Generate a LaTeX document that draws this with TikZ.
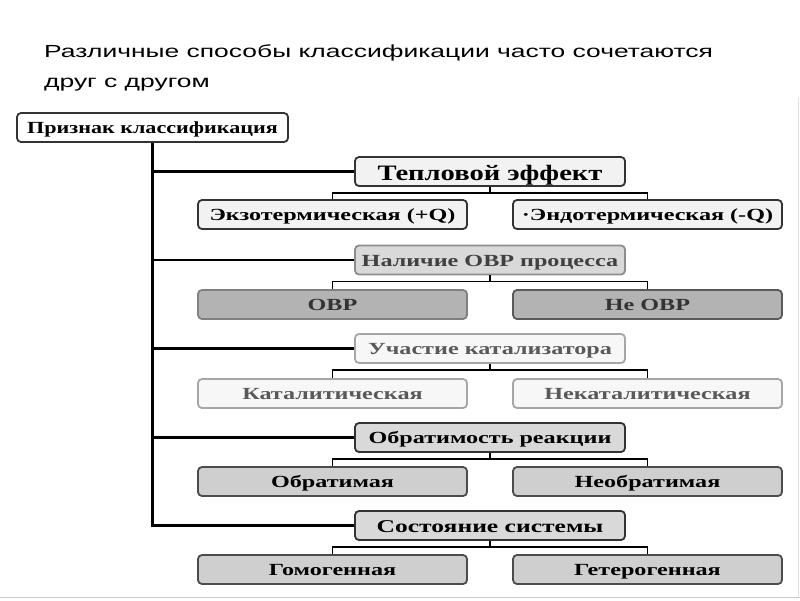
\documentclass[tikz,border=0pt]{standalone}
\usepackage{fontspec}
\setmainfont{Liberation Serif}
\newfontfamily\titlefont[FakeStretch=1.51]{Liberation Sans}
\newfontfamily\boxfont[FakeStretch=1.3]{Liberation Serif}
\newfontfamily\kidfont[FakeStretch=1.42]{Liberation Serif}
\usetikzlibrary{positioning}
\definecolor{edgedark}{HTML}{333333}
\definecolor{fillpale}{HTML}{F2F2F2}
\definecolor{fillmid}{HTML}{D9D9D9}
\definecolor{filldeep}{HTML}{B3B3B3}
\definecolor{fillchild}{HTML}{CFCFCF}
\begin{document}
\begin{tikzpicture}[x=1pt,y=-1pt,
  boxbase/.style={rectangle, rounded corners=4pt, line width=1.8pt, inner sep=0pt,
     minimum height=29pt, text height=12pt, text depth=0pt,
     font=\kidfont\bfseries\fontsize{17}{19}\selectfont},
  rootbox/.style={boxbase, draw=edgedark, fill=white, minimum width=271pt, font=\boxfont\bfseries\fontsize{17}{19}\selectfont},
  catbox/.style={boxbase, minimum width=270pt},
  kidbox/.style={boxbase, minimum width=269pt},
  trunk/.style={line width=2.6pt, draw=black},
  twig/.style={line width=1.8pt, draw=black}
]
\useasboundingbox (0,0) rectangle (800,600);
\draw[line width=1pt, draw=black!20] (0,597) -- (800,597);
\draw[line width=1pt, draw=black!12] (798,98) -- (798,597);

\node[anchor=base west, font=\titlefont\fontsize{17.5}{20}\selectfont, inner sep=0pt] (t1) at (44,57) {Различные способы классификации часто сочетаются};
\node[anchor=base west, font=\titlefont\fontsize{17.5}{20}\selectfont, inner sep=0pt] (t2) at (44,87) {друг с другом};

\node[rootbox] (P) at (152.5,127.5) {Признак классификация};

% categories
\node[catbox, draw=edgedark, fill=fillpale, text height=17pt, font=\boxfont\bfseries\fontsize{22}{24}\selectfont] (C1) at (490,171.5) {Тепловой эффект};
\node[catbox, draw=black!45, fill=fillmid, text=black!75] (C2) at (490,260) {Наличие ОВР процесса};
\node[catbox, draw=black!35, fill=black!3, text=black!65] (C3) at (490,348.5) {Участие катализатора};
\node[catbox, draw=edgedark, fill=fillmid] (C4) at (490,437.5) {Обратимость реакции};
\node[catbox, draw=edgedark, fill=fillmid, text height=13pt, font=\kidfont\bfseries\fontsize{18}{20}\selectfont] (C5) at (490,525.5) {Состояние системы};

% children
\node[kidbox, draw=edgedark, fill=fillpale] (A1) at (332.5,214.5) {Экзотермическая (+Q)};
\node[kidbox, draw=edgedark, fill=fillpale] (B1) at (647.5,214.5) {·Эндотермическая (-Q)};
\node[kidbox, draw=black!50, fill=filldeep, text=black!80] (A2) at (332.5,304.5) {ОВР};
\node[kidbox, draw=black!65, fill=filldeep, text=black!80] (B2) at (647.5,304.5) {Не ОВР};
\node[kidbox, draw=black!35, fill=black!3, text=black!65] (A3) at (332.5,393.5) {Каталитическая};
\node[kidbox, draw=black!35, fill=black!3, text=black!65] (B3) at (647.5,393.5) {Некаталитическая};
\node[kidbox, draw=black!70, fill=fillchild] (A4) at (332.5,481.5) {Обратимая};
\node[kidbox, draw=black!70, fill=fillchild] (B4) at (647.5,481.5) {Необратимая};
\node[kidbox, draw=black!70, fill=fillchild] (A5) at (332.5,569.5) {Гомогенная};
\node[kidbox, draw=black!70, fill=fillchild] (B5) at (647.5,569.5) {Гетерогенная};

% trunk
\draw[trunk] (P.south) |- (C5.west);
\foreach \c in {C1,C2,C3,C4}{
  \draw[trunk] (P.south |- \c.west) -- (\c.west);
}

% twigs
\foreach \i in {1,...,5}{
  \draw[twig] (C\i.south) -- ++(0,6) -| (A\i.north);
  \draw[twig] (C\i.south) ++(0,6) -| (B\i.north);
}
\end{tikzpicture}
\end{document}
